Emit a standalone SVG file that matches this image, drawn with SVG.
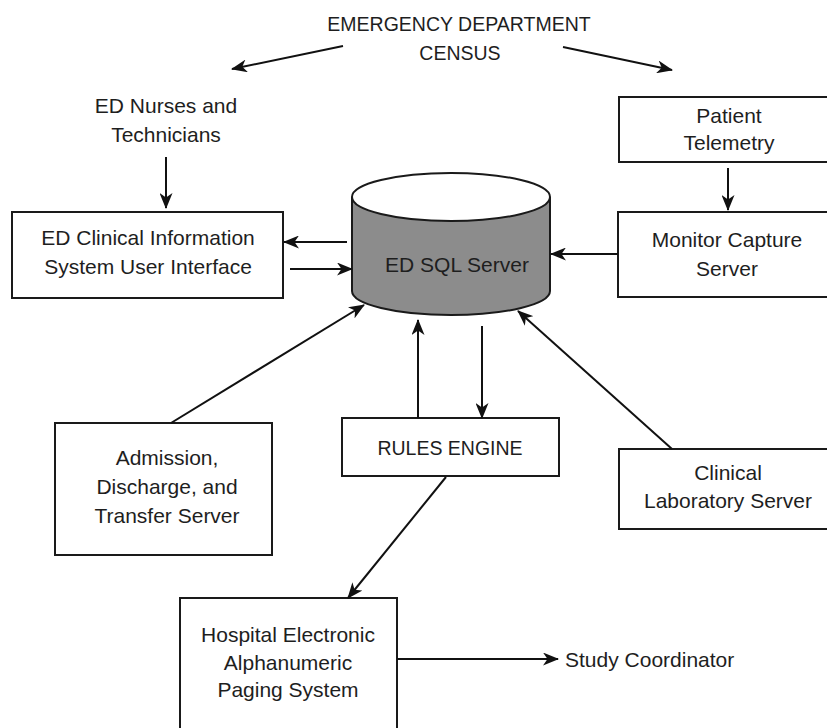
<svg xmlns="http://www.w3.org/2000/svg" width="827" height="728" viewBox="0 0 827 728">
<defs>
<marker id="ah" viewBox="0 0 16 13" refX="15" refY="6.5" markerWidth="16" markerHeight="13" markerUnits="userSpaceOnUse" orient="auto">
<path d="M0,0 L16,6.5 L0,13 L4.5,6.5 z" fill="#111"/>
</marker>
<style>
.box{fill:#fff;stroke:#1a1a1a;stroke-width:2}
.t{font-family:"Liberation Sans",Arial,sans-serif;font-size:21px;fill:#1e1e1e;text-anchor:middle}
.caps{font-size:19.5px}
.c{fill:none;stroke:#111;stroke-width:2;marker-end:url(#ah)}
</style>
</defs>
<rect width="827" height="728" fill="#fff"/>

<g id="census">
<text class="t caps" x="459" y="31">EMERGENCY DEPARTMENT</text>
<text class="t caps" x="460" y="60">CENSUS</text>
</g>

<g id="nurses">
<text class="t" x="166" y="113">ED Nurses and</text>
<text class="t" x="166" y="142">Technicians</text>
</g>

<g id="edcis">
<rect class="box" x="12" y="212" width="271" height="86"/>
<text class="t" x="148" y="245">ED Clinical Information</text>
<text class="t" x="148" y="274">System User Interface</text>
</g>

<g id="sqlserver">
<path d="M352,197 L352,291 A99,24 0 0 0 550,291 L550,197" fill="#8c8c8c" stroke="#1a1a1a" stroke-width="2"/>
<ellipse cx="451" cy="197" rx="99" ry="24" fill="#fff" stroke="#1a1a1a" stroke-width="2"/>
<text class="t" x="457" y="272">ED SQL Server</text>
</g>

<g id="telemetry">
<rect class="box" x="619" y="97" width="220" height="65"/>
<text class="t" x="729" y="123">Patient</text>
<text class="t" x="729" y="150">Telemetry</text>
</g>

<g id="monitor">
<rect class="box" x="618" y="212" width="220" height="85"/>
<text class="t" x="727" y="247">Monitor Capture</text>
<text class="t" x="727" y="276">Server</text>
</g>

<g id="adt">
<rect class="box" x="55" y="423" width="217" height="132"/>
<text class="t" x="167" y="465">Admission,</text>
<text class="t" x="167" y="494">Discharge, and</text>
<text class="t" x="167" y="523">Transfer Server</text>
</g>

<g id="rules">
<rect class="box" x="342" y="418" width="217" height="58"/>
<text class="t caps" x="450" y="455">RULES ENGINE</text>
</g>

<g id="lab">
<rect class="box" x="619" y="449" width="220" height="80"/>
<text class="t" x="728" y="480">Clinical</text>
<text class="t" x="728" y="508">Laboratory Server</text>
</g>

<g id="paging">
<rect class="box" x="180" y="598" width="217" height="140"/>
<text class="t" x="288" y="642">Hospital Electronic</text>
<text class="t" x="288" y="670">Alphanumeric</text>
<text class="t" x="288" y="697">Paging System</text>
</g>

<g id="coordinator">
<text class="t" x="565" y="667" style="text-anchor:start">Study Coordinator</text>
</g>

<g id="connectors">
<line class="c" x1="343" y1="46" x2="232" y2="69"/>
<line class="c" x1="563" y1="47" x2="672" y2="70"/>
<line class="c" x1="166" y1="157" x2="166" y2="208"/>
<line class="c" x1="347" y1="242" x2="284" y2="242"/>
<line class="c" x1="290" y1="269" x2="352" y2="269"/>
<line class="c" x1="728" y1="168" x2="728" y2="210"/>
<line class="c" x1="618" y1="254" x2="551" y2="254"/>
<line class="c" x1="171" y1="423" x2="364" y2="305"/>
<line class="c" x1="418" y1="418" x2="418" y2="320"/>
<line class="c" x1="482" y1="326" x2="482" y2="418"/>
<line class="c" x1="672" y1="449" x2="518" y2="311"/>
<line class="c" x1="446" y1="477" x2="348" y2="598"/>
<line class="c" x1="397" y1="659" x2="558" y2="659"/>
</g>
</svg>
